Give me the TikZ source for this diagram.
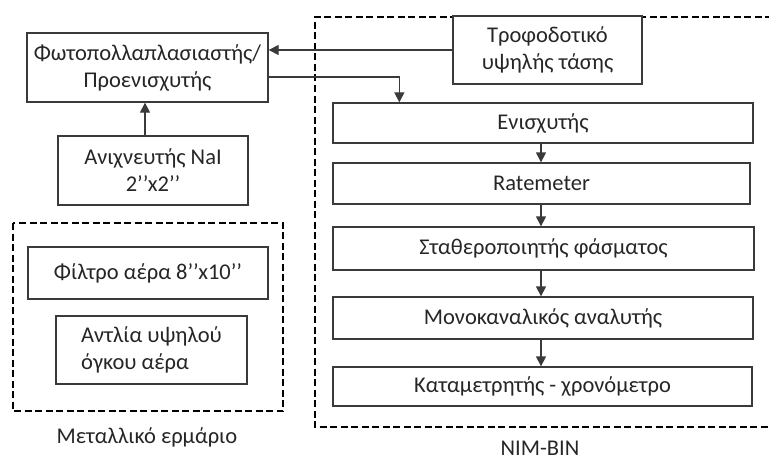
\documentclass[tikz,border=0pt]{standalone}
\usepackage{fontspec}
\setmainfont{Carlito}
\usetikzlibrary{arrows.meta}
\definecolor{ink}{HTML}{262626}
\definecolor{edge}{HTML}{3A3A3A}
\begin{document}
\begin{tikzpicture}[x=1pt,y=-1pt,
  every node/.style={font=\fontsize{22.5}{27}\selectfont, text=ink},
  blk/.style={draw=edge, line width=1.3pt, fill=white, inner sep=0pt, align=center},
  group/.style={draw=black, line width=1.9pt, dash pattern=on 7pt off 3.5pt},
  arr/.style={draw=edge, line width=1.3pt, -{Triangle[width=10pt,length=10pt]}},
  lbl/.style={inner sep=0pt}
]
\useasboundingbox (0,0) rectangle (769,460);

% enclosures
\draw[group] (13,223) rectangle (283,411);
\draw[group] (772,17) -- (315,17) -- (315,427) -- (772,427);

% detector chain
\node[blk, minimum width=241pt, minimum height=69pt] (pmt) at (147.5,67.5)
  {Φωτοπολλαπλασιαστής/\\Προενισχυτής};
\node[blk, minimum width=190pt, minimum height=69pt] (nai) at (153,170.5)
  {Ανιχνευτής NaI\\2’’x2’’};

% metal cabinet contents
\node[blk, minimum width=240pt, minimum height=52pt] (filter) at (148,273)
  {Φίλτρο αέρα 8’’x10’’};
\node[blk, minimum width=191pt, minimum height=68pt, align=left] (pump) at (151.5,350)
  {Αντλία υψηλού\\όγκου αέρα};
\node[lbl] (cab) at (147,437) {Μεταλλικό ερμάριο};

% NIM-BIN modules
\node[blk, minimum width=189pt, minimum height=68pt] (hv) at (547.5,50)
  {Τροφοδοτικό\\υψηλής τάσης};
\node[blk, minimum width=420pt, minimum height=40pt] (amp) at (543,123) {Ενισχυτής};
\node[blk, minimum width=417pt, minimum height=41pt] (rate) at (541.5,183.5) {Ratemeter};
\node[blk, minimum width=421pt, minimum height=43pt] (stab) at (543.5,248.5) {Σταθεροποιητής φάσματος};
\node[blk, minimum width=420pt, minimum height=42pt] (sca) at (543,318) {Μονοκαναλικός αναλυτής};
\node[blk, minimum width=419pt, minimum height=39pt] (cnt) at (542.5,386.5) {Καταμετρητής - χρονόμετρο};
\node[lbl] (nim) at (540,448) {NIM-BIN};

% signal and supply connections
\draw[arr] (nai.north -| 145,0) -- (pmt.south -| 145,0);
\draw[arr] (hv.west) -- (hv.west -| pmt.east);
\coordinate (ampin) at ([xshift=67pt]amp.north west);
\draw[arr] ([yshift=-9.5pt]pmt.east) -| (ampin);
\draw[arr] (amp.south -| 541,0) -- (rate.north -| 541,0);
\draw[arr] (rate.south -| 541,0) -- (stab.north -| 541,0);
\draw[arr] (stab.south -| 541,0) -- (sca.north -| 541,0);
\draw[arr] (sca.south -| 541,0) -- (cnt.north -| 541,0);
\end{tikzpicture}
\end{document}
